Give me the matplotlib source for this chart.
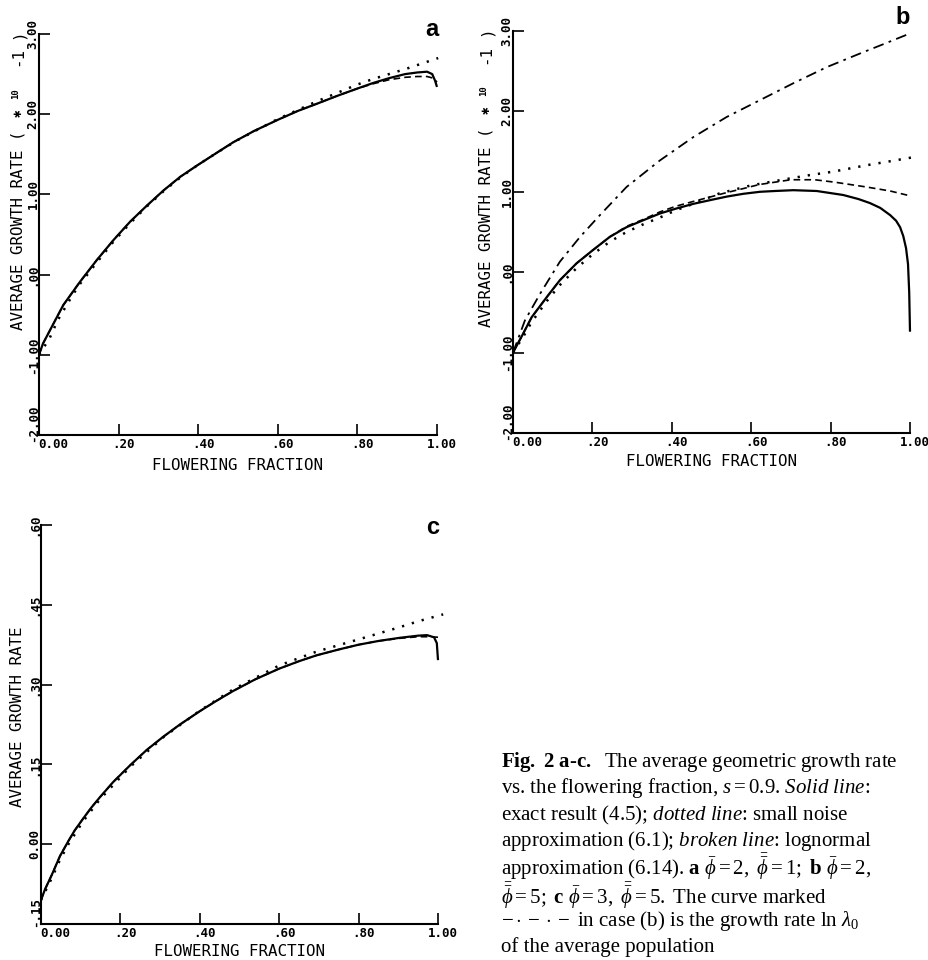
import matplotlib as mpl
mpl.use('Agg')
import matplotlib.pyplot as plt
import matplotlib.transforms as mtransforms

# ---- data ----
# panel a (growth rate x 10)
xa_solid = [0, 0.01, 0.028, 0.061, 0.103, 0.145, 0.187, 0.229, 0.271, 0.313, 0.355,
            0.397, 0.447, 0.488, 0.54, 0.60, 0.65, 0.698, 0.75, 0.80, 0.84, 0.88,
            0.92, 0.95, 0.975, 0.988, 0.995, 1.0]
ya_solid = [-1.00, -0.86, -0.69, -0.38, -0.09, 0.18, 0.43, 0.66, 0.86, 1.05, 1.22,
            1.36, 1.52, 1.65, 1.79, 1.93, 2.04, 2.13, 2.23, 2.32, 2.39, 2.45,
            2.50, 2.52, 2.53, 2.50, 2.42, 2.34]
xa_dash = [0, 0.01, 0.028, 0.061, 0.103, 0.145, 0.187, 0.229, 0.271, 0.313, 0.355,
           0.397, 0.447, 0.488, 0.54, 0.60, 0.65, 0.698, 0.75, 0.80, 0.84, 0.88,
           0.92, 0.95, 0.975, 0.99, 1.0]
ya_dash = [-1.00, -0.86, -0.69, -0.38, -0.09, 0.18, 0.43, 0.66, 0.86, 1.05, 1.22,
           1.36, 1.52, 1.65, 1.79, 1.93, 2.04, 2.13, 2.23, 2.32, 2.38, 2.43,
           2.46, 2.47, 2.47, 2.45, 2.40]
xa_dot = [0, 0.026, 0.047, 0.066, 0.085, 0.104, 0.145, 0.187, 0.229, 0.271, 0.313,
          0.355, 0.397, 0.447, 0.50, 0.60, 0.698, 0.80, 0.84, 0.925, 1.003]
ya_dot = [-1.00, -0.80, -0.57, -0.41, -0.25, -0.11, 0.15, 0.41, 0.64, 0.85, 1.04,
          1.21, 1.36, 1.52, 1.68, 1.94, 2.16, 2.37, 2.44, 2.57, 2.70]

# panel b
xb_solid = [0, 0.026, 0.047, 0.085, 0.118, 0.16, 0.20, 0.244, 0.286, 0.33, 0.37,
            0.41, 0.454, 0.50, 0.538, 0.58, 0.622, 0.66, 0.706, 0.765, 0.832, 0.87,
            0.899, 0.925, 0.95, 0.965, 0.975, 0.983, 0.99, 0.995, 0.998, 1.0]
yb_solid = [-1.00, -0.76, -0.56, -0.31, -0.10, 0.11, 0.27, 0.44, 0.56, 0.65, 0.73,
            0.79, 0.85, 0.90, 0.94, 0.975, 1.00, 1.01, 1.02, 1.01, 0.96, 0.91,
            0.86, 0.80, 0.71, 0.64, 0.56, 0.45, 0.30, 0.10, -0.25, -0.74]
xb_dash = [0, 0.026, 0.047, 0.085, 0.118, 0.16, 0.20, 0.244, 0.286, 0.33, 0.37,
           0.41, 0.454, 0.50, 0.538, 0.58, 0.62, 0.66, 0.70, 0.76, 0.81, 0.85,
           0.89, 0.95, 1.0]
yb_dash = [-1.00, -0.76, -0.56, -0.31, -0.10, 0.11, 0.27, 0.44, 0.57, 0.66, 0.75,
           0.82, 0.88, 0.94, 0.99, 1.04, 1.09, 1.12, 1.15, 1.15, 1.12, 1.09,
           1.06, 1.01, 0.95]
xb_dot = [0, 0.026, 0.047, 0.085, 0.118, 0.16, 0.20, 0.244, 0.286, 0.33, 0.37,
          0.41, 0.454, 0.52, 0.60, 0.69, 0.75, 0.806, 0.89, 0.95, 1.008]
yb_dot = [-1.00, -0.80, -0.62, -0.36, -0.16, 0.05, 0.22, 0.38, 0.50, 0.60, 0.68,
          0.77, 0.85, 0.98, 1.08, 1.16, 1.21, 1.25, 1.33, 1.38, 1.43]
xb_lam = [0, 0.03, 0.068, 0.118, 0.169, 0.219, 0.286, 0.37, 0.454, 0.538, 0.622,
          0.706, 0.79, 0.874, 0.94, 1.0]
yb_lam = [-1.00, -0.60, -0.27, 0.13, 0.44, 0.71, 1.06, 1.39, 1.68, 1.93, 2.14,
          2.35, 2.55, 2.72, 2.85, 2.97]

# panel c
xc_solid = [0, 0.01, 0.027, 0.048, 0.069, 0.085, 0.106, 0.127, 0.148, 0.182, 0.224,
            0.266, 0.308, 0.35, 0.40, 0.443, 0.484, 0.54, 0.60, 0.65, 0.694, 0.75,
            0.80, 0.85, 0.904, 0.95, 0.972, 0.99, 0.997, 1.0]
yc_solid = [-0.105, -0.085, -0.058, -0.022, 0.006, 0.026, 0.048, 0.069, 0.088, 0.117,
            0.148, 0.177, 0.202, 0.225, 0.250, 0.270, 0.288, 0.310, 0.330, 0.344,
            0.355, 0.366, 0.375, 0.382, 0.388, 0.392, 0.393, 0.389, 0.378, 0.346]
xc_dash = [0, 0.01, 0.027, 0.048, 0.069, 0.085, 0.106, 0.127, 0.148, 0.182, 0.224,
           0.266, 0.308, 0.35, 0.40, 0.443, 0.484, 0.54, 0.60, 0.65, 0.694, 0.75,
           0.80, 0.85, 0.904, 0.95, 0.98, 1.0]
yc_dash = [-0.105, -0.085, -0.058, -0.022, 0.006, 0.026, 0.048, 0.069, 0.088, 0.117,
           0.148, 0.177, 0.202, 0.225, 0.250, 0.270, 0.288, 0.310, 0.330, 0.344,
           0.355, 0.366, 0.375, 0.382, 0.387, 0.390, 0.390, 0.389]
xc_dot = [0, 0.027, 0.048, 0.069, 0.106, 0.148, 0.224, 0.308, 0.40, 0.484, 0.60,
          0.694, 0.80, 0.904, 0.95, 1.013]
yc_dot = [-0.105, -0.064, -0.029, 0.000, 0.043, 0.084, 0.145, 0.201, 0.251, 0.291,
          0.336, 0.362, 0.385, 0.408, 0.419, 0.432]

xticks = [0, 0.2, 0.4, 0.6, 0.8, 1.0]
xtick_labels = ['0.00', '.20', '.40', '.60', '.80', '1.00']
yticks_ab = [-2, -1, 0, 1, 2, 3]
ytick_labels_ab = ['-2.00', '-1.00', '.00', '1.00', '2.00', '3.00']
yticks_c = [-0.15, 0.0, 0.15, 0.30, 0.45, 0.60]
ytick_labels_c = ['-.15', '0.00', '.15', '.30', '.45', '.60']

MONO = 'DejaVu Sans Mono'
W, H = 929, 960

fig = plt.figure(figsize=(W / 100, H / 100), dpi=100)


def px_axes(left, top, right, bottom):
    return fig.add_axes([left / W, 1 - bottom / H, (right - left) / W, (bottom - top) / H])


def style_axes(ax, yticks, ylabels, ylim):
    ax.set_xlim(0, 1)
    ax.set_ylim(*ylim)
    for s in ['top', 'right']:
        ax.spines[s].set_visible(False)
    for s in ['left', 'bottom']:
        ax.spines[s].set_linewidth(1.5)
    ax.set_xticks(xticks)
    ax.set_xticklabels(xtick_labels, family=MONO, fontsize=9, fontweight='bold')
    ax.set_yticks(yticks)
    ax.set_yticklabels(ylabels, family=MONO, fontsize=9, fontweight='bold',
                       rotation=90, va='center')
    ax.tick_params(direction='in', length=8, width=1.2, pad=2)
    ax.tick_params(axis='y', pad=-0.5)
    # nudge labels like the plotter output
    for i, lab in enumerate(ax.get_xticklabels()):
        dx = 14 if i == 0 else 5
        lab.set_transform(lab.get_transform() +
                          mtransforms.ScaledTranslation(dx / 100, 0, fig.dpi_scale_trans))
    labs = ax.get_yticklabels()
    labs[0].set_transform(labs[0].get_transform() +
                          mtransforms.ScaledTranslation(0, 12 / 100, fig.dpi_scale_trans))
    ax.set_facecolor('none')


def draw(ax, x, y, kind):
    if kind == 'solid':
        ax.plot(x, y, color='black', lw=1.6, clip_on=False, solid_capstyle='butt')
    elif kind == 'dash':
        ax.plot(x, y, color='black', lw=1.2, ls=(0, (4, 2.5)), clip_on=False)
    elif kind == 'dot':
        ax.plot(x, y, color='black', lw=1.8, ls=(0, (0.9, 3.2)), clip_on=False)
    elif kind == 'dashdot':
        ax.plot(x, y, color='black', lw=1.3, ls=(0, (6, 3, 1.5, 3)), clip_on=False)


# panel a
ax_a = px_axes(39, 34, 437, 435)
style_axes(ax_a, yticks_ab, ytick_labels_ab, (-2, 3))
draw(ax_a, xa_dot, ya_dot, 'dot')
draw(ax_a, xa_dash, ya_dash, 'dash')
draw(ax_a, xa_solid, ya_solid, 'solid')

# panel b
ax_b = px_axes(513, 31, 910, 433)
style_axes(ax_b, yticks_ab, ytick_labels_ab, (-2, 3))
draw(ax_b, xb_lam, yb_lam, 'dashdot')
draw(ax_b, xb_dot, yb_dot, 'dot')
draw(ax_b, xb_dash, yb_dash, 'dash')
draw(ax_b, xb_solid, yb_solid, 'solid')

# panel c
ax_c = px_axes(41, 525, 438, 924)
style_axes(ax_c, yticks_c, ytick_labels_c, (-0.15, 0.60))
draw(ax_c, xc_dot, yc_dot, 'dot')
draw(ax_c, xc_dash, yc_dash, 'dash')
draw(ax_c, xc_solid, yc_solid, 'solid')


def ftext(x, y, s, **kw):
    fig.text(x / W, 1 - y / H, s, **kw)


# axis titles
for cx, cy in [(238, 465), (712, 462), (240, 952)]:
    ftext(cx, cy, 'FLOWERING FRACTION', family=MONO, fontsize=11.4,
          ha='center', va='center')


def scaled_ylabel(x, base):
    kw = dict(rotation=90, ha='center', family=[MONO, 'DejaVu Sans'])
    ftext(x, base, 'AVERAGE GROWTH RATE (', va='bottom', fontsize=11.4, **kw)
    ftext(x, base - 217, '\u2731', va='center', fontsize=9, **kw)
    ftext(x - 2, base - 236, '10', va='center', fontsize=6.5, fontweight='bold', **kw)
    ftext(x, base - 273, '-1', va='center', fontsize=11.4, **kw)
    ftext(x, base - 296, ')', va='center', fontsize=11.4, **kw)


scaled_ylabel(18, 330)
scaled_ylabel(486, 327)
ftext(18, 717, 'AVERAGE GROWTH RATE', family=MONO, fontsize=11.4, rotation=90,
      ha='center', va='center')

# panel letters
for cx, cy, s in [(432, 30, 'a'), (903, 17, 'b'), (433, 527, 'c')]:
    ftext(cx, cy, s, family='Liberation Sans', fontweight='bold', fontsize=17,
          ha='center', va='center')

# caption
plt.rcParams['mathtext.fontset'] = 'custom'
plt.rcParams['mathtext.rm'] = 'Liberation Serif'
plt.rcParams['mathtext.it'] = 'Liberation Serif:italic'
plt.rcParams['mathtext.bf'] = 'Liberation Serif:bold'
caption = [
    r'$\mathbf{Fig.\ 2\ a}$-$\mathbf{c.}$  The average geometric growth rate',
    r'vs. the flowering fraction, $\mathit{s}=0.9$. $\mathit{Solid\ line}$:',
    r'exact result (4.5); $\mathit{dotted\ line}$: small noise',
    r'approximation (6.1); $\mathit{broken\ line}$: lognormal',
    r'approximation (6.14). $\mathbf{a}\ \bar{\phi}=2,\ \bar{\bar{\phi}}=1;\ \mathbf{b}\ \bar{\phi}=2,$',
    r'$\bar{\bar{\phi}}=5;\ \mathbf{c}\ \bar{\phi}=3,\ \bar{\bar{\phi}}=5.$ The curve marked',
    r'$-\cdot-\cdot-$ in case (b) is the growth rate ln $\lambda_0$',
    r'of the average population',
]
line_y = [762, 788, 815, 841, 867, 896, 921, 947]
for s, yy in zip(caption, line_y):
    ftext(501, yy, s, family='Liberation Serif', fontsize=15, ha='left',
          va='center')

fig.savefig('out.png', dpi=100)
